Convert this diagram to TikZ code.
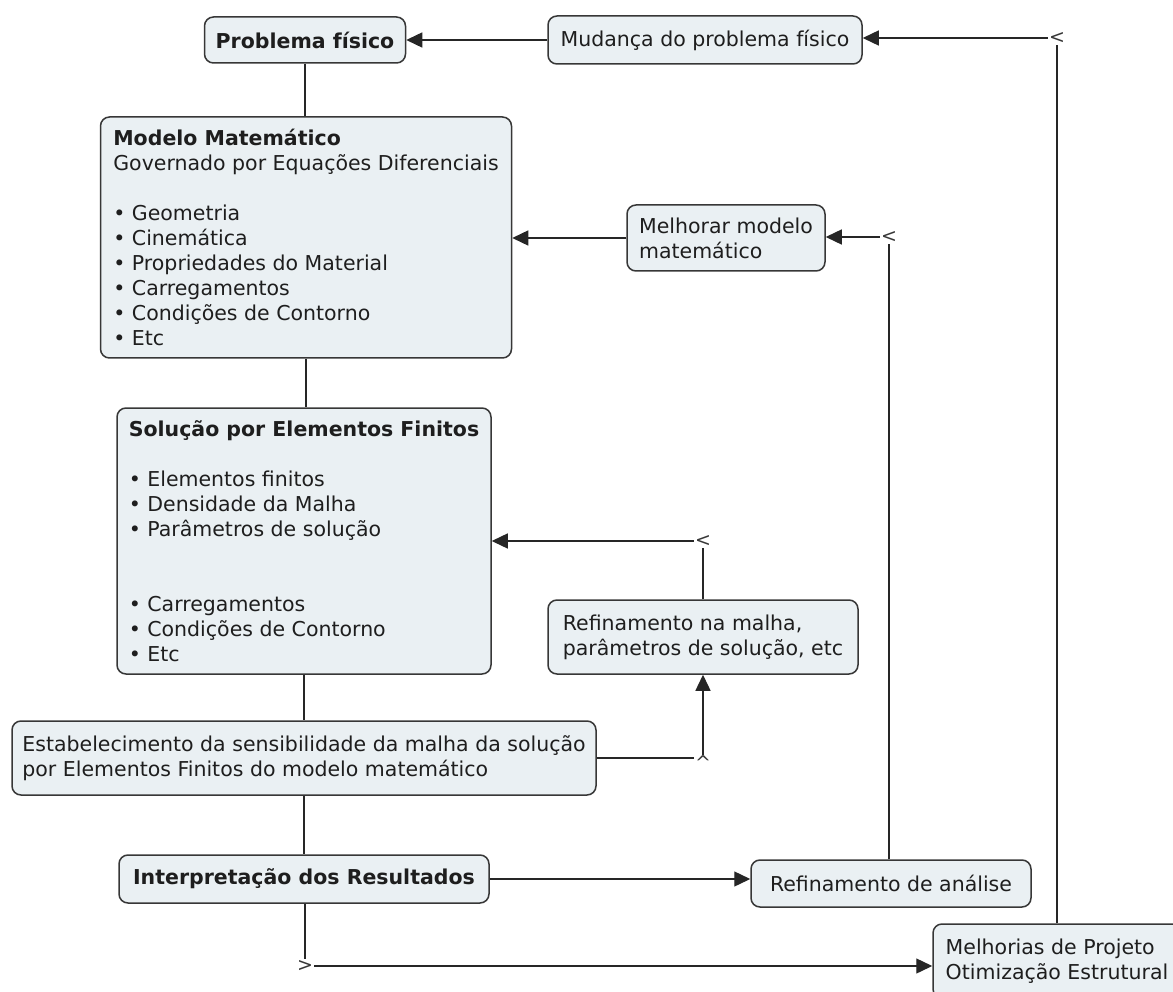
\documentclass[tikz,border=0pt]{standalone}
\usepackage{fontspec}
\setmainfont{DejaVu Sans}
\usetikzlibrary{arrows.meta}
\definecolor{boxfill}{RGB}{234,240,243}
\definecolor{boxline}{RGB}{55,55,55}
\definecolor{ink}{RGB}{30,30,30}

\begin{document}
\begin{tikzpicture}[x=1pt,y=-1pt,
  concept/.style={draw=boxline, line width=1.5pt, fill=boxfill, rounded corners=9pt,
    align=left, inner sep=0pt, text=ink, font=\fontsize{20.5}{25}\selectfont},
  joint/.style={inner sep=1pt, text=boxline, font=\fontsize{19}{19}\selectfont},
  link/.style={draw=black!85, line width=1.4pt},
  arr/.style={link, -{Triangle[length=16pt,width=15pt]}},
]
\useasboundingbox (0,0) rectangle (1173,992);

% concepts
\node[concept, minimum width=201pt, minimum height=46pt] (prob) at (305,40)
  {\textbf{Problema físico}};
\node[concept, minimum width=314pt, minimum height=48pt] (mud) at (705,40)
  {Mudança do problema físico};
\node[concept, minimum width=411pt, minimum height=241pt] (modelo) at (306,237.5)
  {\textbf{Modelo Matemático}\\
   Governado por Equações Diferenciais\\[25pt]
   • Geometria\\
   • Cinemática\\
   • Propriedades do Material\\
   • Carregamentos\\
   • Condições de Contorno\\
   • Etc};
\node[concept, minimum width=198pt, minimum height=66pt] (melhorar) at (726,238)
  {Melhorar modelo\\matemático};
\node[concept, minimum width=374pt, minimum height=266pt] (solucao) at (304,541)
  {\textbf{Solução por Elementos Finitos}\\[25pt]
   • Elementos finitos\\
   • Densidade da Malha\\
   • Parâmetros de solução\\[50pt]
   • Carregamentos\\
   • Condições de Contorno\\
   • Etc};
\node[concept, minimum width=310pt, minimum height=74pt] (refmalha) at (703,637)
  {Refinamento na malha,\\parâmetros de solução, etc};
\node[concept, minimum width=584pt, minimum height=74pt] (estab) at (304,758)
  {Estabelecimento da sensibilidade da malha da solução\\por Elementos Finitos do modelo matemático};
\node[concept, minimum width=370pt, minimum height=48pt] (interp) at (304,879)
  {\textbf{Interpretação dos Resultados}};
\node[concept, minimum width=280pt, minimum height=47pt] (refanal) at (891,883.5)
  {Refinamento de análise};
\node[concept, minimum width=248pt, minimum height=74pt] (melhorias) at (1057,961)
  {Melhorias de Projeto\\Otimização Estrutural};

% linking marks
\node[joint] (jMud) at (1057,38) {<};
\node[joint] (jMel) at (889,237) {<};
\node[joint] (jSol) at (703,541) {<};
\node[joint] (jRef) at (703,763) {\^{}};
\node[joint] (jInt) at (305,966) {>};

% main column
\draw[link] (prob.south) -- (prob.south |- modelo.north);
\draw[link] (modelo.south) -- (modelo.south |- solucao.north);
\draw[link] (solucao.south) -- (solucao.south |- estab.north);
\draw[link] (estab.south) -- (estab.south |- interp.north);

% feedback loops
\draw[arr] (mud.west) -- (mud.west -| prob.east);
\draw[link] (melhorias.north) -- (jMud.south);
\draw[arr] (jMud.west) -- (jMud.west -| mud.east);

\draw[arr] (melhorar.west) -- (melhorar.west -| modelo.east);
\draw[link] (refanal.north -| jMel.south) -- (jMel.south);
\draw[arr] (jMel.west) -- (jMel.west -| melhorar.east);

\draw[link] (refmalha.north) -- (jSol.south);
\draw[arr] (jSol.west) -- (jSol.west -| solucao.east);

\draw[link] (estab.east) -- (estab.east -| jRef.west);
\draw[arr] (jRef.north) -- (jRef.north |- refmalha.south);

\draw[arr] (interp.east) -- (interp.east -| refanal.west);
\draw[link] (interp.south -| jInt.north) -- (jInt.north);
\draw[arr] (jInt.east) -- (jInt.east -| melhorias.west);
\end{tikzpicture}
\end{document}
